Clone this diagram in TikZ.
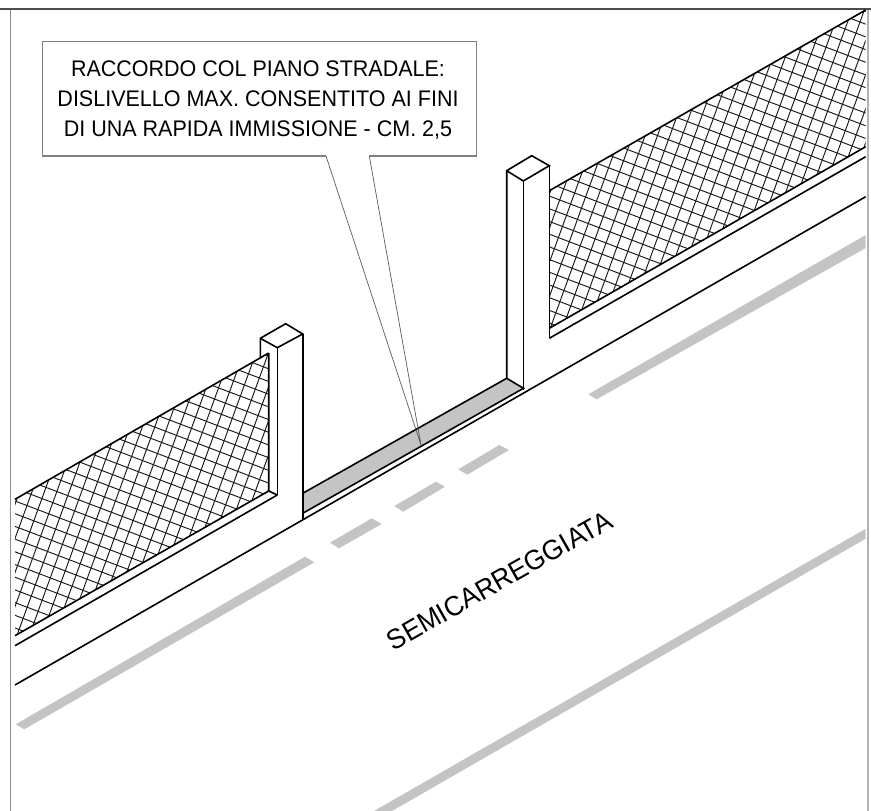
\documentclass[tikz,border=0pt]{standalone}
\usepackage{fontspec}
\setmainfont{Liberation Sans}
\definecolor{roadgray}{HTML}{C4C4C4}
\tikzset{
  outline/.style={line width=1.6pt,black,line join=miter},
  wire/.style={line width=0.95pt,black!90},
  leader/.style={line width=0.7pt,black!65},
  roadmark/.style={fill=roadgray,draw=none},
}
\newcommand{\meshlines}{%
  \foreach \k in {-40,...,110}{
    \draw[wire] (0,{\k*12.7}) -- (900,{\k*12.7+900*0.38});
    \draw[wire] ({\k*12.4},0) -- ({\k*12.4-300},{300*2.75});
  }}
\begin{document}
\begin{tikzpicture}[x=1pt,y=-1pt]
\useasboundingbox (0,0) rectangle (871,811);
% frame
\draw[line width=2.4pt,black!70] (0,9) -- (871,9);
\draw[line width=1.4pt,black!45] (10.5,10) -- (10.5,811);
\draw[line width=2pt,black!30] (867.5,10) -- (867.5,811);
% left mesh
\begin{scope}
  \clip (15,499.3) -- (268.7,353) -- (268.7,491) -- (15,635.7) -- cycle;
  \meshlines
\end{scope}
% right mesh
\begin{scope}
  \clip (549.3,190.7) -- (865.7,10) -- (865.7,146.7) -- (549.3,328.3) -- cycle;
  \meshlines
\end{scope}
% strip
\fill[roadgray] (302.7,493.3) -- (506.7,378.3) -- (523.7,388.3) -- (302.7,513.3) -- cycle;
% road marks
\fill[roadmark] (15.7,724.3) -- (305,556.7) -- (314.3,562.3) -- (24.3,729.3) -- cycle;
\fill[roadmark] (330,542.7) -- (371.7,518.3) -- (381.7,524) -- (339,548.3) -- cycle;
\fill[roadmark] (394.3,506) -- (436,481.7) -- (445,486.7) -- (403.3,511.7) -- cycle;
\fill[roadmark] (458.3,469.3) -- (499.3,445) -- (509,450) -- (467.3,474.7) -- cycle;
\fill[roadmark] (588.3,394.3) -- (865.7,235) -- (865.7,248) -- (596.7,399.3) -- cycle;
\fill[roadmark] (374,811) -- (865.7,528.7) -- (865.7,538.7) -- (392,811) -- cycle;
% left wall
\draw[outline] (15,499.3) -- (268.7,353);
\draw[outline] (15,635.7) -- (268.7,491) -- (268.7,353);
\draw[outline] (15,645.7) -- (277.3,495);
\draw[outline] (268.7,491) -- (277.3,495);
% left post
\draw[outline] (260.3,358) -- (260.3,338.3) -- (285.7,323.7) -- (302.7,334) -- (277.3,347.7) -- (260.3,338.3);
\draw[outline] (277.3,347.7) -- (277.3,495);
\draw[outline] (302.7,334) -- (302.7,519.8);
% right post
\draw[outline] (506.7,378.3) -- (506.7,170.7) -- (531.7,155.7) -- (549.3,165.7) -- (523.3,181) -- (506.7,170.7);
\draw[outline] (523.3,181) -- (523.3,390);
\draw[outline] (549.3,165.7) -- (549.3,338.3);
% right wall
\draw[outline] (549.3,190.7) -- (865.7,10);
\draw[outline] (549.3,328.3) -- (865.7,146.7);
\draw[outline] (549.3,338.3) -- (865.7,156.7);
% strip edges and road edge
\draw[outline] (302.7,493.3) -- (506.7,378.3) -- (523.5,388.3) -- (302.7,513.3);
\draw[outline] (15,685) -- (865.7,196.7);
% callout
\draw[line width=1.1pt,black!50] (326,156) -- (42.7,156) -- (42.7,41.7) -- (476.7,41.7) -- (476.7,156) -- (369.3,156);
\draw[leader] (326,156) -- (421,445) -- (369.3,156);
\node[align=center,inner sep=0pt,yscale=1.05,transform shape,font=\fontsize{21.5}{28.6}\selectfont] (callouttext) at (258,100.5)
  {RACCORDO COL PIANO STRADALE:\\DISLIVELLO MAX. CONSENTITO AI FINI\\DI UNA RAPIDA IMMISSIONE - CM. 2,5};
\node[rotate=29.5,inner sep=0pt,yscale=1.05,transform shape,font=\fontsize{26.5}{30}\selectfont] (roadlabel) at (499.5,580.5) {SEMICARREGGIATA};
\end{tikzpicture}
\end{document}
